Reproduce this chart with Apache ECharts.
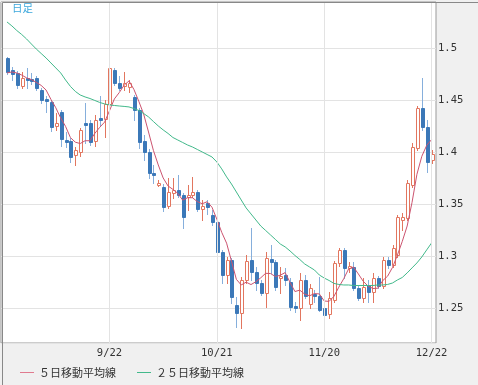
<!DOCTYPE html>
<html><head><meta charset="utf-8">
<script src="https://cdn.jsdelivr.net/npm/echarts@6/dist/echarts.min.js"></script>
<style>html,body{margin:0;padding:0;background:#f0f0f0}#c{width:478px;height:385px}</style>
</head><body><div id="c"></div>
<script>
// Daily candles (oldest -> newest)
const opens = [
1.4904,1.4788,1.4760,1.4635,1.4712,1.4702,1.4712,1.4596,1.4510,1.4481,
1.4250,1.4385,1.4115,1.4106,1.3971,1.4000,1.4279,1.4279,1.4106,1.4327,
1.4317,1.4462,1.4788,1.4663,1.4635,1.4625,1.4529,1.4404,1.4106,1.4000,
1.3798,1.3683,1.3663,1.3481,1.3606,1.3635,1.3587,1.3567,1.3587,1.3615,
1.3452,1.3510,1.3394,1.3327,1.3038,1.2817,1.2962,1.2529,1.2452,1.2769,
1.2962,1.2846,1.2740,1.2644,1.2971,1.2942,1.2788,1.2817,1.2750,1.2519,
1.2500,1.2769,1.2538,1.2635,1.2615,1.2500,1.2442,1.2577,1.2933,1.3058,
1.2885,1.2894,1.2692,1.2596,1.2721,1.2654,1.2788,1.2712,1.2962,1.2913,
1.3010,1.3346,1.3365,1.3683,1.4038,1.4423,1.4240,1.3923];
const closes = [
1.4769,1.4750,1.4644,1.4712,1.4692,1.4683,1.4615,1.4500,1.4490,1.4240,
1.4279,1.4125,1.4096,1.3952,1.4019,1.4212,1.4260,1.4096,1.4308,1.4308,
1.4462,1.4808,1.4663,1.4615,1.4663,1.4663,1.4404,1.4096,1.4000,1.3798,
1.3779,1.3702,1.3471,1.3615,1.3635,1.3587,1.3375,1.3587,1.3615,1.3452,
1.3481,1.3471,1.3327,1.3038,1.2817,1.2962,1.2606,1.2452,1.2769,1.2952,
1.2846,1.2740,1.2644,1.2981,1.2942,1.2702,1.2808,1.2769,1.2510,1.2500,
1.2769,1.2615,1.2692,1.2615,1.2481,1.2433,1.2596,1.2933,1.3058,1.2885,
1.2904,1.2692,1.2596,1.2702,1.2654,1.2788,1.2712,1.2962,1.2913,1.3077,
1.3375,1.3375,1.3702,1.4048,1.4423,1.4240,1.3904,1.3981];
const lows = [
1.4750,1.4692,1.4615,1.4615,1.4615,1.4654,1.4596,1.4471,1.4385,1.4202,
1.4212,1.4058,1.4048,1.3904,1.3875,1.3962,1.4087,1.4067,1.4058,1.4260,
1.4144,1.4433,1.4644,1.4596,1.4596,1.4577,1.4308,1.4038,1.3923,1.3750,
1.3702,1.3673,1.3433,1.3462,1.3558,1.3567,1.3269,1.3442,1.3567,1.3433,
1.3346,1.3404,1.3298,1.3010,1.2740,1.2740,1.2548,1.2317,1.2308,1.2740,
1.2769,1.2673,1.2625,1.2510,1.2837,1.2673,1.2644,1.2721,1.2481,1.2462,
1.2385,1.2596,1.2500,1.2558,1.2471,1.2404,1.2404,1.2558,1.2904,1.2788,
1.2846,1.2673,1.2577,1.2558,1.2558,1.2558,1.2692,1.2692,1.2885,1.2894,
1.2990,1.3250,1.3346,1.3663,1.4019,1.4212,1.3808,1.3894];
const highs = [
1.4913,1.4817,1.4779,1.4769,1.4808,1.4760,1.4731,1.4615,1.4538,1.4500,
1.4375,1.4404,1.4192,1.4135,1.4048,1.4231,1.4471,1.4308,1.4356,1.4538,
1.4500,1.4865,1.4808,1.4731,1.4769,1.4692,1.4548,1.4423,1.4163,1.4029,
1.3875,1.3731,1.3692,1.3750,1.3750,1.3779,1.3606,1.3683,1.3760,1.3635,
1.3538,1.3538,1.3442,1.3346,1.3058,1.2990,1.2981,1.2606,1.2798,1.3010,
1.3269,1.2894,1.2769,1.3038,1.3106,1.2962,1.2894,1.2885,1.2788,1.2558,
1.2837,1.2817,1.2731,1.2673,1.2798,1.2529,1.2654,1.2952,1.3077,1.3077,
1.2942,1.2942,1.2721,1.2788,1.2769,1.2837,1.2808,1.2990,1.2990,1.3106,
1.3394,1.3413,1.3731,1.4087,1.4442,1.4712,1.4308,1.4019];
// Moving averages as drawn
const ma5 = [
1.4760,1.4769,1.4760,1.4740,1.4713,1.4696,1.4669,1.4640,1.4596,1.4506,
1.4425,1.4327,1.4246,1.4138,1.4094,1.4081,1.4108,1.4108,1.4179,1.4237,
1.4287,1.4396,1.4510,1.4571,1.4642,1.4683,1.4602,1.4488,1.4365,1.4192,
1.4015,1.3875,1.3750,1.3673,1.3640,1.3602,1.3537,1.3560,1.3560,1.3523,
1.3502,1.3521,1.3469,1.3354,1.3227,1.3123,1.2950,1.2775,1.2721,1.2748,
1.2725,1.2752,1.2790,1.2833,1.2831,1.2802,1.2815,1.2840,1.2746,1.2658,
1.2671,1.2633,1.2617,1.2638,1.2635,1.2567,1.2563,1.2612,1.2700,1.2781,
1.2875,1.2894,1.2827,1.2756,1.2710,1.2687,1.2690,1.2763,1.2806,1.2890,
1.3008,1.3140,1.3288,1.3515,1.3785,1.3958,1.4063,1.4119];
const ma25 = [
1.5250,1.5212,1.5168,1.5130,1.5087,1.5038,1.4990,1.4947,1.4904,1.4856,
1.4808,1.4760,1.4692,1.4630,1.4582,1.4548,1.4529,1.4514,1.4495,1.4476,
1.4462,1.4452,1.4447,1.4442,1.4438,1.4433,1.4418,1.4399,1.4370,1.4337,
1.4293,1.4250,1.4212,1.4178,1.4139,1.4115,1.4091,1.4067,1.4048,1.4024,
1.4000,1.3976,1.3952,1.3904,1.3837,1.3760,1.3692,1.3615,1.3538,1.3462,
1.3404,1.3346,1.3288,1.3245,1.3202,1.3159,1.3115,1.3087,1.3048,1.3005,
1.2966,1.2923,1.2894,1.2865,1.2817,1.2788,1.2764,1.2736,1.2726,1.2721,
1.2721,1.2716,1.2716,1.2716,1.2716,1.2716,1.2721,1.2721,1.2726,1.2740,
1.2769,1.2793,1.2837,1.2885,1.2933,1.2990,1.3058,1.3125];
const tickIndex = [21, 43, 65, 87];
const tickLabels = ['9/22', '10/21', '11/20', '12/22'];
const seriesNames = ['５日移動平均線', '２５日移動平均線'];

const RED = '#e2765f', BLUE = '#3b78b8', BLUE_WICK = '#86afdc';
const MA5_COLOR = '#cc5470', MA25_COLOR = '#42b98b';
const MONO = 'DejaVu Sans Mono';

const chart = echarts.init(document.getElementById('c'), null, {renderer: 'canvas'});
const candleData = opens.map((o, i) => [i, o, closes[i], lows[i], highs[i]]);

const option = {
  animation: false,
  backgroundColor: '#f0f0f0',
  title: {text: '日足', left: 12, top: 3, padding: 0,
    textStyle: {fontSize: 10.5, fontWeight: 'normal', color: '#3ba7dc', fontFamily: 'Noto Sans CJK JP'}},
  legend: {left: 15, top: 362, itemWidth: 14, itemHeight: 1, itemGap: 21, icon: 'rect',
    itemStyle: {borderWidth: 0},
    data: [
      {name: seriesNames[0], itemStyle: {color: '#e07a8e', borderWidth: 0, opacity: 1}},
      {name: seriesNames[1], itemStyle: {color: MA25_COLOR, borderWidth: 0, opacity: 1}}
    ],
    textStyle: {fontFamily: 'Noto Sans CJK JP', fontSize: 11, color: '#333'}},
  grid: {left: 1, top: 2, width: 435, height: 341, show: true, backgroundColor: '#fff', borderColor: '#999', borderWidth: 1},
  xAxis: {type: 'value', min: -1.2295, max: 87.91, axisLine: {show: false}, axisTick: {show: false},
    axisLabel: {show: false}, splitLine: {show: false}},
  yAxis: {type: 'value', position: 'right', min: 1.2163, max: 1.5442, splitNumber: 6, scale: true,
    axisLine: {show: false}, axisTick: {show: false},
    axisLabel: {margin: 2, color: '#333', fontFamily: MONO, fontSize: 10.5,
      formatter: v => (Math.abs(v * 20 - Math.round(v * 20)) < 1e-6 ? String(+v.toFixed(2)) : '')},
    splitLine: {lineStyle: {color: '#e3e3e3'}}},
  graphic: [{type: 'rect', left: 0, top: 0, z: 100, silent: true,
    shape: {x: 0.5, y: 0.5, width: 477, height: 384}, style: {fill: 'none', stroke: '#888', lineWidth: 1}}],
  series: [
    {type: 'line', name: 'grid', data: [], z: 1, silent: true,
      markLine: {silent: true, symbol: ['none', 'none'], animation: false,
        lineStyle: {color: '#e3e3e3', type: 'solid', width: 1},
        label: {show: true, position: 'start', formatter: '{b}', distance: 5, color: '#333', fontFamily: MONO, fontSize: 10.5},
        emphasis: {disabled: true},
        data: tickIndex.map((x, k) => ({xAxis: x, name: tickLabels[k]}))}},
    {type: 'custom', name: 'candles', z: 2, silent: true, data: candleData,
      encode: {x: 0, y: [1, 2, 3, 4]},
      renderItem: function (params, api) {
        const i = api.value(0), o = api.value(1), c = api.value(2), l = api.value(3), h = api.value(4);
        const pO = api.coord([i, o]), pC = api.coord([i, c]), pL = api.coord([i, l]), pH = api.coord([i, h]);
        const cx = Math.round(pO[0]);
        const up = c >= o;
        const yTop = Math.round(Math.min(pO[1], pC[1])) + 0.5;
        let yBot = Math.round(Math.max(pO[1], pC[1])) + 0.5;
        if (yBot - yTop < 1) yBot = yTop + 1;
        return {type: 'group', children: [
          {type: 'line', shape: {x1: cx + 0.5, y1: Math.round(pH[1]), x2: cx + 0.5, y2: Math.round(pL[1]) + 1},
            style: {stroke: up ? RED : BLUE_WICK, lineWidth: 1}},
          {type: 'rect', shape: {x: cx - 0.5, y: yTop, width: 3, height: yBot - yTop},
            style: {fill: up ? '#fff' : BLUE, stroke: up ? RED : BLUE, lineWidth: 1}}
        ]};
      }},
    {type: 'line', name: seriesNames[0], z: 3, data: ma5.map((v, i) => [i, v]), showSymbol: false, symbol: 'none',
      color: MA5_COLOR, itemStyle: {color: MA5_COLOR}, lineStyle: {width: 1, color: MA5_COLOR}, silent: true},
    {type: 'line', name: seriesNames[1], z: 3, data: ma25.map((v, i) => [i, v]), showSymbol: false, symbol: 'none',
      color: MA25_COLOR, itemStyle: {color: MA25_COLOR}, lineStyle: {width: 1, color: MA25_COLOR}, silent: true}
  ]
};
chart.setOption(option);
</script></body></html>
